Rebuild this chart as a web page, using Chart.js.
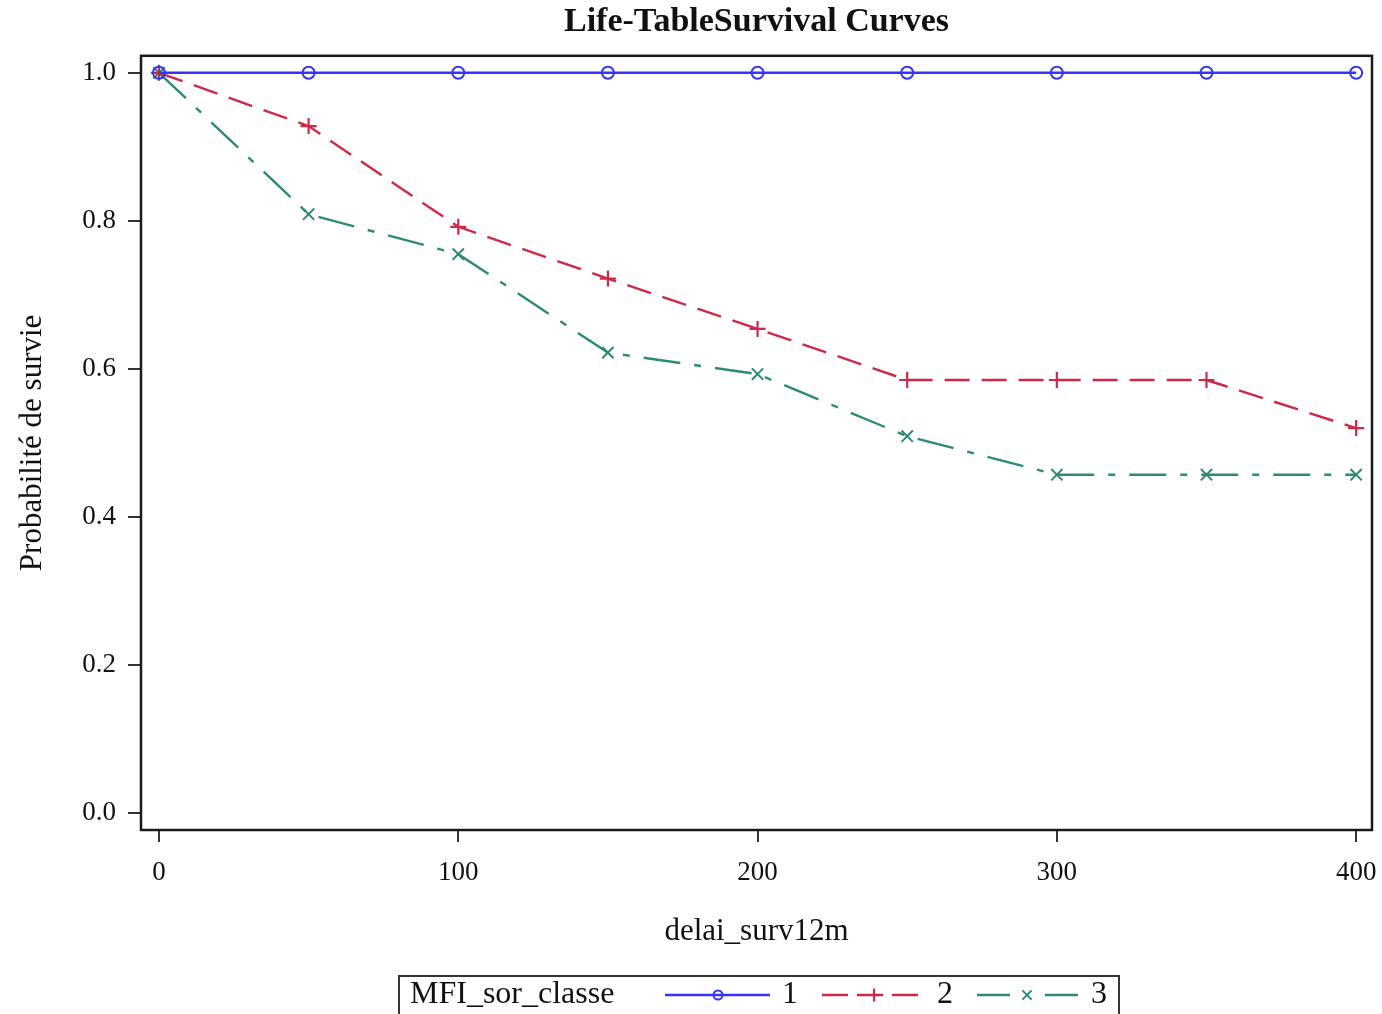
<!DOCTYPE html>
<html><head><meta charset="utf-8">
<script src="https://cdn.jsdelivr.net/npm/chart.js@4"></script>
<style>html,body{margin:0;padding:0;background:#fff}</style>
</head><body>
<canvas id="c" width="1382" height="1014"></canvas>
<script>
const times = [0, 50, 100, 150, 200, 250, 300, 350, 400];
const class1 = [1.0, 1.0, 1.0, 1.0, 1.0, 1.0, 1.0, 1.0, 1.0];
const class2 = [1.0, 0.928, 0.792, 0.722, 0.654, 0.585, 0.585, 0.585, 0.520];
const class3 = [1.0, 0.809, 0.755, 0.622, 0.593, 0.509, 0.457, 0.457, 0.457];
const seriesLabels = ['1', '2', '3'];
const xTicks = [0, 100, 200, 300, 400];
const yTicks = [0.0, 0.2, 0.4, 0.6, 0.8, 1.0];
const titleText = 'Life-TableSurvival Curves';
const xTitle = 'delai_surv12m';
const yTitle = 'Probabilité de survie';
const legendTitle = 'MFI_sor_classe';

const SERIF = '"Liberation Serif", "Times New Roman", serif';
const toPts = arr => times.map((t, i) => ({x: t, y: arr[i]}));

const frame = {
  id: 'frame',
  afterDraw(chart) {
    const {ctx, chartArea: a} = chart;
    ctx.save();
    ctx.strokeStyle = '#1a1a1a';
    ctx.lineWidth = 2.5;
    ctx.strokeRect(a.left, a.top, a.right - a.left, a.bottom - a.top);
    ctx.restore();
  }
};

const sasLegend = {
  id: 'sasLegend',
  afterDraw(chart) {
    const ctx = chart.ctx;
    const ds = chart.data.datasets;
    ctx.save();
    const boxL = 399, boxT = 976, boxR = 1119, boxB = 1016, cy = 995;
    ctx.strokeStyle = '#333';
    ctx.lineWidth = 2;
    ctx.strokeRect(boxL, boxT, boxR - boxL, boxB - boxT);
    ctx.fillStyle = '#111';
    ctx.font = '32px ' + SERIF;
    ctx.textBaseline = 'middle';
    ctx.textAlign = 'left';
    ctx.fillText(legendTitle, 410, cy);
    const samples = [[665, 770, 718, 782], [822, 918, 874, 937], [977, 1080, 1027, 1091]];
    ds.forEach((d, i) => {
      const [x0, x1, mx, tx] = samples[i];
      ctx.save();
      ctx.strokeStyle = d.borderColor;
      ctx.lineWidth = d.borderWidth;
      ctx.setLineDash(d.legendDash || []);
      ctx.beginPath(); ctx.moveTo(x0, cy); ctx.lineTo(x1, cy); ctx.stroke();
      ctx.setLineDash([]);
      ctx.strokeStyle = d.pointBorderColor;
      ctx.fillStyle = d.pointBackgroundColor;
      ctx.lineWidth = d.pointBorderWidth;
      Chart.helpers.drawPoint(ctx, {pointStyle: d.pointStyle, radius: d.pointRadius - 1.5, rotation: 0,
        borderWidth: d.pointBorderWidth}, mx, cy);
      ctx.restore();
      ctx.fillStyle = '#111';
      ctx.fillText(d.label, tx, cy);
    });
    ctx.restore();
  }
};

const blue = '#3434f4', red = '#cc2a48', teal = '#2e8a78';

new Chart(document.getElementById('c'), {
  type: 'line',
  data: {
    datasets: [
      {label: seriesLabels[0], data: toPts(class1), borderColor: blue, borderWidth: 2.4,
       pointStyle: 'circle', pointRadius: 6, pointBorderWidth: 2, pointBorderColor: blue,
       pointBackgroundColor: 'rgba(255,255,255,0)', legendDash: []},
      {label: seriesLabels[1], data: toPts(class2), borderColor: red, borderWidth: 2.4,
       borderDash: [25, 12], legendDash: [26, 9],
       pointStyle: 'cross', pointRadius: 8, pointBorderWidth: 2.2, pointBorderColor: red,
       pointBackgroundColor: red},
      {label: seriesLabels[2], data: toPts(class3), borderColor: teal, borderWidth: 2.4,
       borderDash: [37, 14, 7, 14], legendDash: [33, 35],
       pointStyle: 'crossRot', pointRadius: 8, pointBorderWidth: 2, pointBorderColor: teal,
       pointBackgroundColor: teal}
    ]
  },
  options: {
    responsive: false,
    animation: false,
    devicePixelRatio: 1,
    layout: {autoPadding: false, padding: {left: 0, right: 10, top: 0, bottom: 64}},
    plugins: {
      legend: {display: false},
      tooltip: {enabled: false},
      title: {display: true, fullSize: false, text: titleText, color: '#111',
        font: {family: SERIF, size: 34, weight: 'bold'}, padding: {top: 2, bottom: 13}}
    },
    scales: {
      x: {
        type: 'linear', min: -6, max: 405.3,
        afterBuildTicks: s => { s.ticks = xTicks.map(v => ({value: v})); },
        afterFit: s => { s.height = 120; s.paddingLeft = 0; s.paddingRight = 0; },
        ticks: {color: '#111', font: {family: SERIF, size: 27}, padding: 15,
          callback: v => String(v), maxRotation: 0, autoSkip: false},
        grid: {drawOnChartArea: false, drawTicks: true, tickLength: 12, color: '#333', lineWidth: 2},
        border: {display: false},
        title: {display: true, text: xTitle, color: '#111',
          font: {family: SERIF, size: 31}, padding: {top: 17, bottom: 0}}
      },
      y: {
        type: 'linear', min: -0.023, max: 1.023,
        afterBuildTicks: s => { s.ticks = yTicks.map(v => ({value: v})); },
        afterFit: s => { s.width = 141; s.paddingTop = 0; s.paddingBottom = 0; },
        ticks: {color: '#111', font: {family: SERIF, size: 27}, padding: 12,
          callback: v => v.toFixed(1), autoSkip: false},
        grid: {drawOnChartArea: false, drawTicks: true, tickLength: 13, color: '#333', lineWidth: 2},
        border: {display: false},
        title: {display: true, text: yTitle, color: '#111',
          font: {family: SERIF, size: 31}, padding: {top: 14, bottom: 0}}
      }
    }
  },
  plugins: [frame, sasLegend]
});
</script>
</body></html>
